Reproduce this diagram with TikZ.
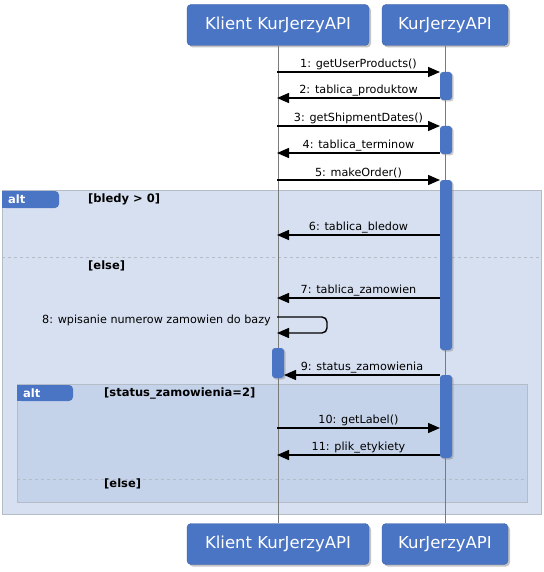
\documentclass[tikz,border=0pt]{standalone}
\usepackage{fontspec}
\setmainfont{DejaVu Sans}
\usetikzlibrary{arrows.meta,shadows}

\definecolor{umlblue}{HTML}{4A74C4}
\definecolor{outerfill}{HTML}{D7E0F0}
\definecolor{innerfill}{HTML}{C5D3EA}
\definecolor{framegray}{HTML}{B4BCC8}
\definecolor{lifegray}{HTML}{7A7A7A}

\tikzset{
  actor/.style={rectangle, rounded corners=4pt, fill=umlblue, draw=umlblue!85!black,
    text=white, font=\fontsize{16.5}{18}\selectfont, minimum height=41pt, inner sep=0pt,
    drop shadow={shadow xshift=2pt, shadow yshift=-2pt, opacity=0.45}},
  lifeline/.style={draw=lifegray, line width=0.8pt},
  activation/.style={fill=umlblue, rounded corners=3pt,
    drop shadow={shadow xshift=1.5pt, shadow yshift=-1.5pt, opacity=0.4}},
  msg/.style={line width=1.4pt, -{Triangle[length=12pt,width=10pt]}},
  msglabel/.style={font=\fontsize{11.2}{13}\selectfont, inner sep=1pt, anchor=south},
  guard/.style={font=\bfseries\fontsize{11.5}{13}\selectfont, anchor=west, inner sep=0pt},
  altlabel/.style={font=\bfseries\fontsize{11.5}{13}\selectfont, text=white, anchor=west, inner sep=0pt},
  frame/.style={draw=framegray, line width=1pt},
  separator/.style={draw=framegray, dashed, line width=0.8pt}
}

\begin{document}
\begin{tikzpicture}[x=1pt, y=-1pt]
	\useasboundingbox[fill=white] (0,0) rectangle (543,572);

	% uczestnicy
	\node[actor, minimum width=182pt] (kTop) at (278,25) {Klient KurJerzyAPI};
	\node[actor, minimum width=126pt] (aTop) at (445,25) {KurJerzyAPI};
	\node[actor, minimum width=182pt] (kBot) at (278,544) {Klient KurJerzyAPI};
	\node[actor, minimum width=126pt] (aBot) at (445,544) {KurJerzyAPI};

	% zewnetrzny alt
	\path[frame, fill=outerfill] (2,190) rectangle (541,514);
	\fill[umlblue, rounded corners=4pt] (2,191) -- (59,191) -- (59,208) -- (2,208) -- cycle;
	\fill[umlblue] (2,191) rectangle (40,208);
	\node[altlabel] (alt1) at (8,199) {alt};
	\node[guard] (g1) at (88,199) {[bledy > 0]};
	\draw[separator] (2,257) -- (541,257);
	\node[guard] (g2) at (88,266) {[else]};

	% wewnetrzny alt
	\path[frame, fill=innerfill] (17,384) rectangle (527,502);
	\fill[umlblue, rounded corners=4pt] (17,385) -- (73,385) -- (73,401) -- (17,401) -- cycle;
	\fill[umlblue] (17,385) rectangle (55,401);
	\node[altlabel] (alt2) at (23,393) {alt};
	\node[guard] (g3) at (104,393) {[status\_zamowienia=2]};
	\draw[separator] (17,479) -- (527,479);
	\node[guard] (g4) at (104,484) {[else]};

	% linie zycia
	\draw[lifeline] (kTop) -- (kBot);
	\draw[lifeline] (aTop) -- (aBot);

	% aktywacje
	\path[activation] (440,72) rectangle (452,100);
	\path[activation] (440,126) rectangle (452,154);
	\path[activation] (440,180) rectangle (452,350);
	\path[activation] (272,348) rectangle (284,378);
	\path[activation] (440,375) rectangle (452,458);

	\coordinate (k1) at (277,72);
	\coordinate (a1) at (440,72);

	\coordinate (k2) at (277,98);
	\coordinate (a2) at (440,98);

	\coordinate (k3) at (277,126);
	\coordinate (a3) at (440,126);

	\coordinate (k4) at (277,153);
	\coordinate (a4) at (440,153);

	\coordinate (k5) at (277,180);
	\coordinate (a5) at (440,180);

	\coordinate (k6) at (277,235);
	\coordinate (a6) at (440,235);

	\coordinate (k7) at (277,298);
	\coordinate (a7) at (440,298);

	\coordinate (k8) at (277,317);
	\coordinate (k8b) at (277,333);

	\coordinate (k9) at (284,375);
	\coordinate (a9) at (440,375);

	\coordinate (k10) at (277,428);
	\coordinate (a10) at (440,428);

	\coordinate (k11) at (277,455);
	\coordinate (a11) at (440,455);

	% komunikaty
	\draw[msg] (k1) -- node[msglabel] {1: getUserProducts()} (a1);
	\draw[msg] (a2) -- node[msglabel] {2: tablica\_produktow} (k2);
	\draw[msg] (k3) -- node[msglabel] {3: getShipmentDates()} (a3);
	\draw[msg] (a4) -- node[msglabel] {4: tablica\_terminow} (k4);
	\draw[msg] (k5) -- node[msglabel] {5: makeOrder()} (a5);
	\draw[msg] (a6) -- node[msglabel] {6: tablica\_bledow} (k6);
	\draw[msg] (a7) -- node[msglabel] {7: tablica\_zamowien} (k7);
	\draw[msg, rounded corners=5pt] (k8) -- ++(50,0) |- (k8b);
	\node[msglabel, anchor=east] (m8) at (272,320) {8: wpisanie numerow zamowien do bazy};
	\draw[msg] (a9) -- node[msglabel] {9: status\_zamowienia} (k9);
	\draw[msg] (k10) -- node[msglabel] {10: getLabel()} (a10);
	\draw[msg] (a11) -- node[msglabel] {11: plik\_etykiety} (k11);
\end{tikzpicture}
\end{document}
